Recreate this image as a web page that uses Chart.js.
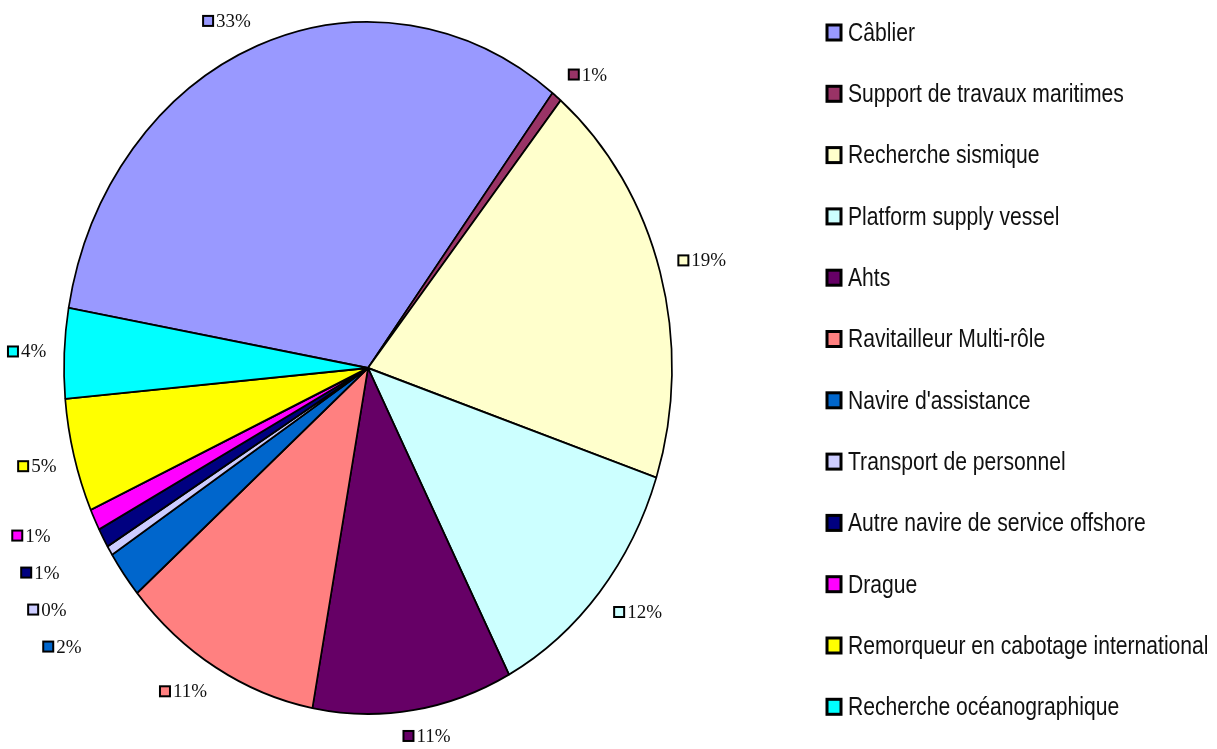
<!DOCTYPE html>
<html>
<head>
<meta charset="utf-8">
<script src="https://cdn.jsdelivr.net/npm/chart.js@4/dist/chart.umd.min.js"></script>
<style>
  html, body { margin: 0; padding: 0; background: #fff; }
  #wrap { width: 1217px; height: 749px; }
</style>
</head>
<body>
<div id="wrap"><canvas id="chart"></canvas></div>
<script>
// Categories and shares (in %)
const categories = [
    'Câblier', 'Support de travaux maritimes', 'Recherche sismique', 'Platform supply vessel',
    'Ahts', 'Ravitailleur Multi-rôle', "Navire d'assistance", 'Transport de personnel',
    'Autre navire de service offshore', 'Drague', 'Remorqueur en cabotage international',
    'Recherche océanographique'
];
const shares = [32.6, 0.55, 19.2, 12.2, 10.6, 10.8, 2.2, 0.45, 0.9, 1.0, 5.3, 4.2];
const colors = [
    '#9999FF', '#993366', '#FFFFCC', '#CCFFFF', '#660066', '#FF8080',
    '#0066CC', '#CCCCFF', '#000080', '#FF00FF', '#FFFF00', '#00FFFF'
];

// The original pie is a bit taller than wide
const STRETCH = 346 / 304;

const ellipsePlugin = {
    id: 'ellipse',
    beforeDatasetsDraw(chart) {
        const arc = chart.getDatasetMeta(0).data[0];
        const ctx = chart.ctx;
        ctx.save();
        ctx.translate(arc.x, arc.y);
        ctx.scale(1, STRETCH);
        ctx.translate(-arc.x, -arc.y);
    },
    afterDatasetsDraw(chart) {
        chart.ctx.restore();
    }
};

// Percent labels with a small coloured box, placed outside each slice
const clamp = (v) => Math.max(-1, Math.min(1, v));
const labelPlugin = {
    id: 'sliceLabels',
    afterDraw(chart) {
        const ctx = chart.ctx;
        const meta = chart.getDatasetMeta(0);
        const values = chart.data.datasets[0].data;
        const total = values.reduce((a, b) => a + b, 0);
        const off = 18, h = 16, gap = 37;
        ctx.save();
        ctx.font = '19px "Liberation Serif", "Times New Roman", serif';
        const items = meta.data.map((arc, i) => {
            const p = arc.getProps(['x', 'y', 'startAngle', 'endAngle', 'outerRadius'], true);
            const mid = (p.startAngle + p.endAngle) / 2;
            const ax = p.x + (p.outerRadius + off) * Math.cos(mid);
            const ay = p.y + (p.outerRadius * STRETCH + off) * Math.sin(mid);
            const text = Math.round(values[i] / total * 100) + '%';
            const w = 14 + ctx.measureText(text).width;
            const hx = clamp(3 * Math.cos(mid));
            const vy = clamp(3 * Math.sin(mid));
            return {
                i, text, w,
                left: ax - w * (1 - hx) / 2,
                top: ay - h * (1 - vy) / 2,
                side: Math.cos(mid) < 0 ? -1 : 1,
                crowded: false
            };
        });
        // push crowded labels apart on each side
        [-1, 1].forEach((side) => {
            const list = items.filter((it) => it.side === side).sort((a, b) => a.top - b.top);
            for (let k = 1; k < list.length; k++) {
                if (list[k].top - list[k - 1].top < gap) {
                    list[k].top = list[k - 1].top + gap;
                    list[k].crowded = list[k - 1].crowded = true;
                }
            }
            list.forEach((it) => { if (it.crowded) it.left += side * 28; });
        });
        items.forEach((it) => {
            const cy = it.top + h / 2;
            ctx.fillStyle = colors[it.i];
            ctx.fillRect(it.left + 1, cy - 5, 10, 10);
            ctx.strokeStyle = '#000';
            ctx.lineWidth = 2;
            ctx.strokeRect(it.left + 1, cy - 5, 10, 10);
            ctx.fillStyle = '#111';
            ctx.textBaseline = 'middle';
            ctx.textAlign = 'left';
            ctx.fillText(it.text, it.left + 14, cy + 1);
        });
        ctx.restore();
    }
};

// Legend on the right, one row per category (condensed text like the original)
const legendPlugin = {
    id: 'sideLegend',
    afterDraw(chart) {
        const ctx = chart.ctx;
        const squeeze = 0.845;
        ctx.save();
        ctx.font = '25px "Liberation Sans Narrow", "Liberation Sans", Arial, sans-serif';
        ctx.textBaseline = 'middle';
        chart.data.labels.forEach((label, i) => {
            const cy = 33 + i * 61.3;
            ctx.fillStyle = colors[i];
            ctx.fillRect(827, cy - 8, 14, 15);
            ctx.strokeStyle = '#000';
            ctx.lineWidth = 3;
            ctx.strokeRect(827, cy - 8, 14, 15);
            ctx.save();
            ctx.translate(848, cy + 1);
            ctx.scale(squeeze, 1);
            ctx.fillStyle = '#111';
            ctx.fillText(label, 0, 0);
            ctx.restore();
        });
        ctx.restore();
    }
};

new Chart(document.getElementById('chart'), {
    type: 'pie',
    data: {
        labels: categories,
        datasets: [{
            data: shares,
            backgroundColor: colors,
            borderColor: '#000',
            borderWidth: 1.7
        }]
    },
    options: {
        responsive: true,
        maintainAspectRatio: false,
        animation: false,
        rotation: -80,
        radius: 304,
        layout: {
            padding: { left: 64, top: 64, right: 545, bottom: 77 }
        },
        plugins: {
            legend: { display: false },
            tooltip: { enabled: false }
        }
    },
    plugins: [ellipsePlugin, labelPlugin, legendPlugin]
});
</script>
</body>
</html>
